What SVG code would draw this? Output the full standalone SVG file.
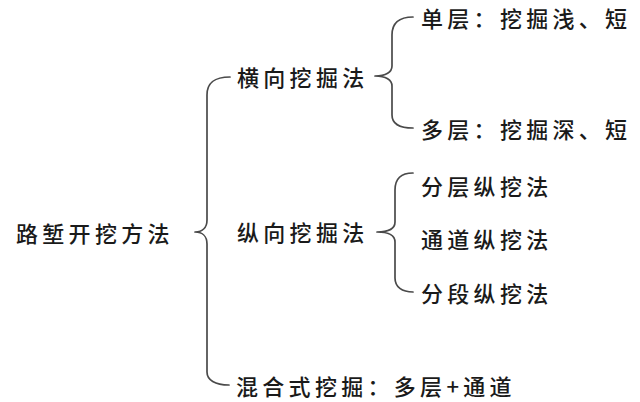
<svg xmlns="http://www.w3.org/2000/svg" width="640" height="402" viewBox="0 0 640 402">
<style>
  .t { font-family: "Noto Sans CJK SC", "Noto Sans", "Liberation Sans", sans-serif; font-size: 22px; font-weight: 500; fill: #1a1a1a; letter-spacing: 4.3px; dominant-baseline: central; }
  .br { fill: none; stroke: #4a4a4a; stroke-width: 1.7; stroke-linecap: round; stroke-linejoin: round; }
</style>
<rect width="640" height="402" fill="#fff"/>
<g id="connectors">
  <path class="br" d="M230,77 C215,77 207,82 207,95 L207,220 C207,228 202,232 195,232 C202,232 207,236 207,244 L207,372 C207,380 215,385 229,385"/>
  <path class="br" d="M413,17 C400,17 392,22 392,35 L392,66 C392,72 386,76 375,76 C386,76 392,80 392,86 L392,115 C392,124 400,128 413,128"/>
  <path class="br" d="M413,173 C402,173 395,178 395,190 L395,222 C395,228 389,232 377,232 C389,232 395,236 395,242 L395,278 C395,287 402,292 413,292"/>
</g>
<g id="root"><text class="t" x="16" y="232">路堑开挖方法</text></g>
<g id="horizontal"><text class="t" x="237" y="76">横向挖掘法</text></g>
<g id="single"><text class="t" x="421" y="17">单层：挖掘浅、短</text></g>
<g id="multi"><text class="t" x="421" y="128">多层：挖掘深、短</text></g>
<g id="vertical"><text class="t" x="237" y="231">纵向挖掘法</text></g>
<g id="layered"><text class="t" x="421" y="185">分层纵挖法</text></g>
<g id="channel"><text class="t" x="421" y="238">通道纵挖法</text></g>
<g id="segment"><text class="t" x="421" y="292">分段纵挖法</text></g>
<g id="mixed"><text class="t" x="236" y="385">混合式挖掘：多层+通道</text></g>
</svg>
